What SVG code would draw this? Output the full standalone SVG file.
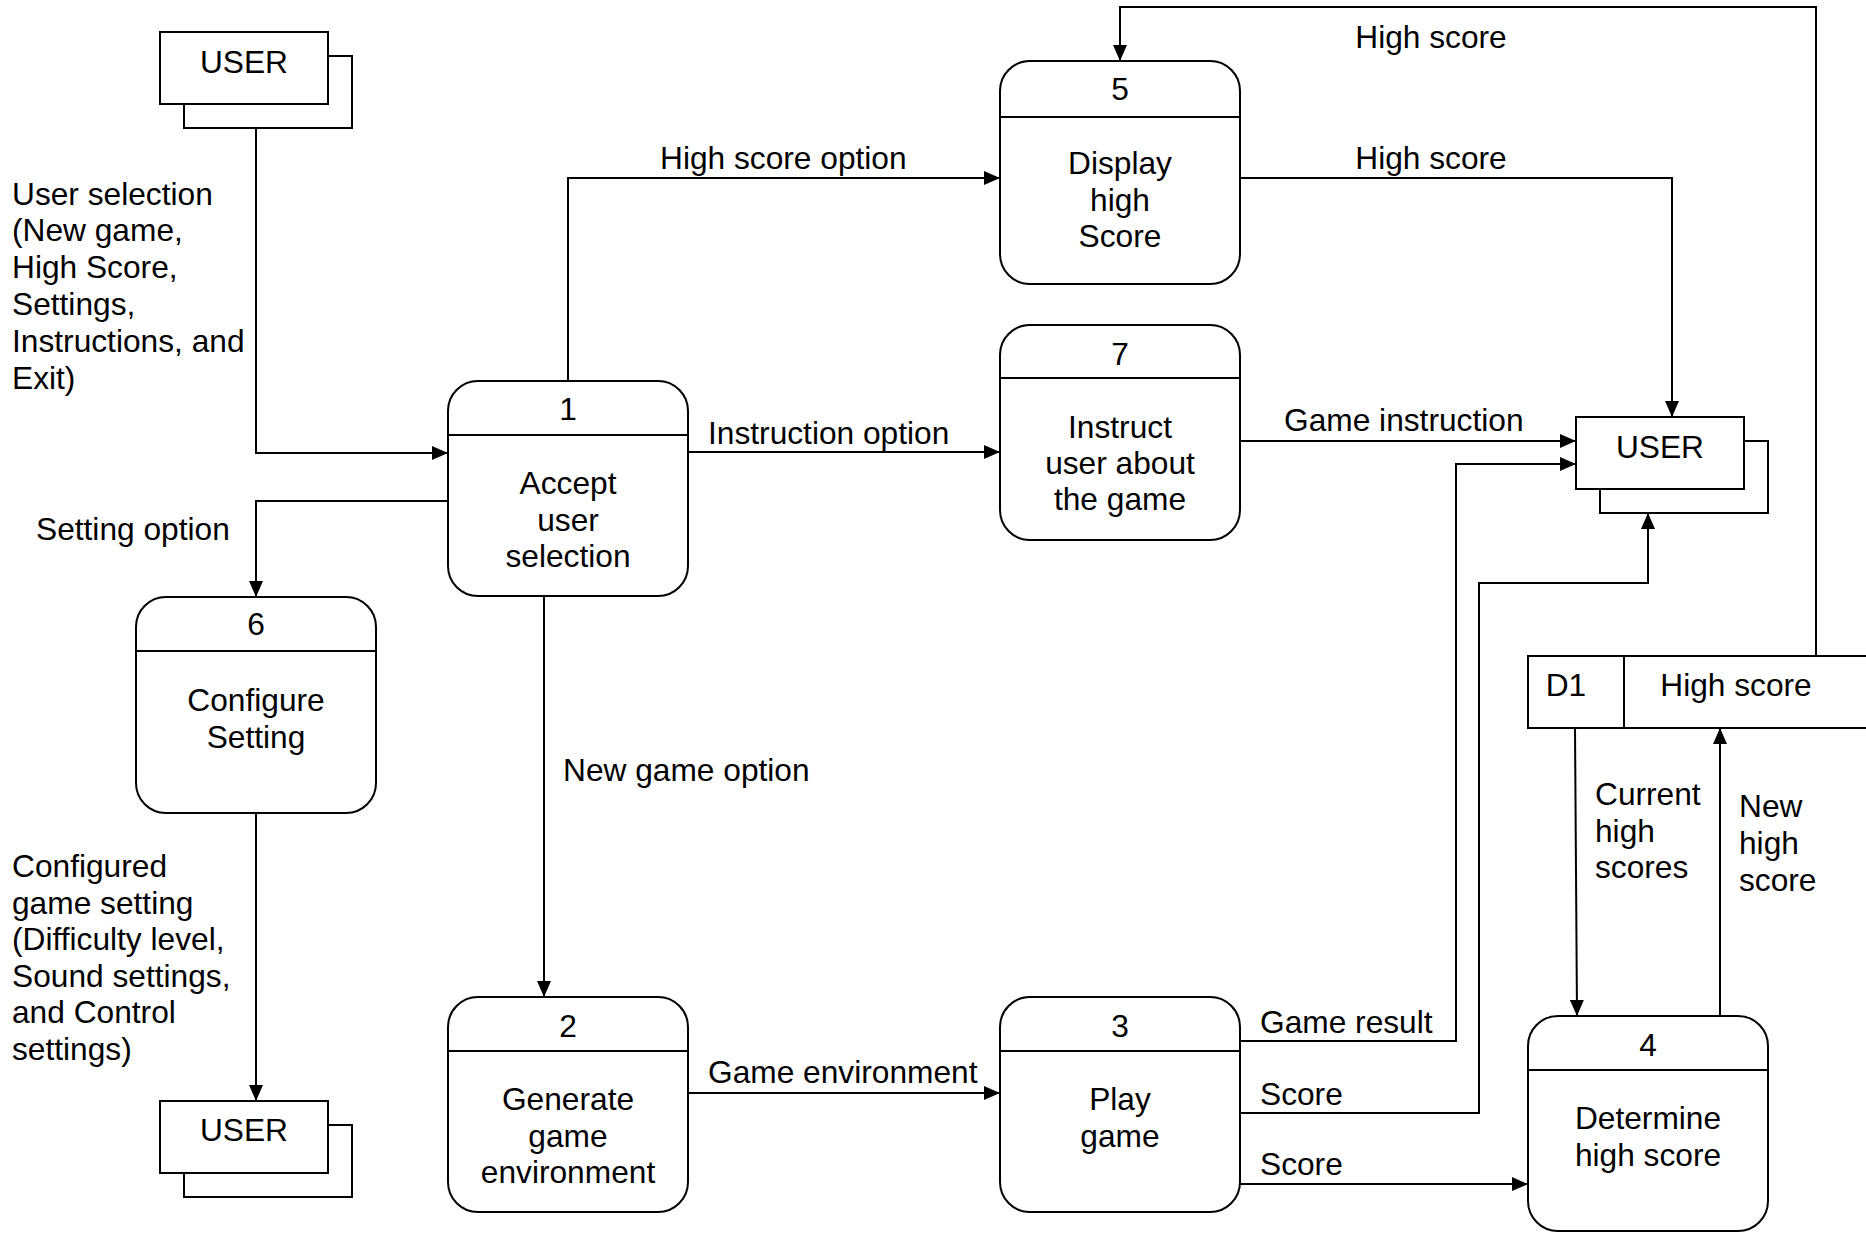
<svg xmlns="http://www.w3.org/2000/svg" width="1866" height="1233" viewBox="0 0 1866 1233">
  <style>
    text { font-family: "Liberation Sans", Arial, sans-serif; font-size: 31.7px; fill: #000; }
    .c { text-anchor: middle; }
    .proc { fill: #fff; stroke: #000; stroke-width: 2; }
    .div { stroke: #000; stroke-width: 2; }
    .ent { fill: #fff; stroke: #000; stroke-width: 2; }
    .flow { fill: none; stroke: #000; stroke-width: 2; }
  </style>
  <defs>
    <marker id="arrow" markerUnits="userSpaceOnUse" markerWidth="16" markerHeight="14" refX="16" refY="7" orient="auto">
      <path d="M0,0 L16,7 L0,14 z" fill="#000"/>
    </marker>
  </defs>
  <rect width="1866" height="1233" fill="#fff"/>

  <!-- data flows -->
  <g id="connectors">
    <path class="flow" d="M256,128 V453 H448" marker-end="url(#arrow)"/>
    <path class="flow" d="M448,501 H256 V597" marker-end="url(#arrow)"/>
    <path class="flow" d="M568,381 V178 H1000" marker-end="url(#arrow)"/>
    <path class="flow" d="M688,452 H1000" marker-end="url(#arrow)"/>
    <path class="flow" d="M544,596 V997" marker-end="url(#arrow)"/>
    <path class="flow" d="M256,813 V1101" marker-end="url(#arrow)"/>
    <path class="flow" d="M688,1093 H1000" marker-end="url(#arrow)"/>
    <path class="flow" d="M1240,178 H1672 V417" marker-end="url(#arrow)"/>
    <path class="flow" d="M1240,441 H1576" marker-end="url(#arrow)"/>
    <path class="flow" d="M1240,1041 H1456 V464 H1576" marker-end="url(#arrow)"/>
    <path class="flow" d="M1240,1113 H1479 V583 H1648 V513" marker-end="url(#arrow)"/>
    <path class="flow" d="M1240,1184 H1528" marker-end="url(#arrow)"/>
    <path class="flow" d="M1575,728 L1577,1016" marker-end="url(#arrow)"/>
    <path class="flow" d="M1720,1016 V728" marker-end="url(#arrow)"/>
    <path class="flow" d="M1816,656 V7 H1120 V61" marker-end="url(#arrow)"/>

    <text x="1431" y="48" class="c">High score</text>
    <text x="1431" y="169" class="c">High score</text>
    <text x="660" y="169">High score option</text>
    <text x="708" y="444">Instruction option</text>
    <text x="1284" y="431">Game instruction</text>
    <text x="36" y="540">Setting option</text>
    <text x="12" y="204.5">User selection</text>
    <text x="12" y="241.4">(New game,</text>
    <text x="12" y="278.3">High Score,</text>
    <text x="12" y="315.2">Settings,</text>
    <text x="12" y="352.1">Instructions, and</text>
    <text x="12" y="389">Exit)</text>
    <text x="563" y="781">New game option</text>
    <text x="12" y="877">Configured</text>
    <text x="12" y="913.6">game setting</text>
    <text x="12" y="950.2">(Difficulty level,</text>
    <text x="12" y="986.8">Sound settings,</text>
    <text x="12" y="1023.4">and Control</text>
    <text x="12" y="1060">settings)</text>
    <text x="708" y="1083">Game environment</text>
    <text x="1260" y="1033">Game result</text>
    <text x="1260" y="1105">Score</text>
    <text x="1260" y="1175">Score</text>
    <text x="1595" y="805">Current</text>
    <text x="1595" y="841.5">high</text>
    <text x="1595" y="878">scores</text>
    <text x="1739" y="817">New</text>
    <text x="1739" y="853.5">high</text>
    <text x="1739" y="890.5">score</text>
  </g>

  <!-- external entities -->
  <g id="user-top">
    <rect class="ent" x="184" y="56" width="168" height="72"/>
    <rect class="ent" x="160" y="32" width="168" height="72"/>
    <text x="244" y="73" class="c">USER</text>
  </g>
  <g id="user-right">
    <rect class="ent" x="1600" y="441" width="168" height="72"/>
    <rect class="ent" x="1576" y="417" width="168" height="72"/>
    <text x="1660" y="458" class="c">USER</text>
  </g>
  <g id="user-bottom">
    <rect class="ent" x="184" y="1125" width="168" height="72"/>
    <rect class="ent" x="160" y="1101" width="168" height="72"/>
    <text x="244" y="1141" class="c">USER</text>
  </g>

  <!-- processes -->
  <g id="p1">
    <rect class="proc" x="448" y="381" width="240" height="215" rx="30"/>
    <line class="div" x1="448" y1="435" x2="688" y2="435"/>
    <text x="568" y="420" class="c">1</text>
    <text x="568" y="494" class="c">Accept</text>
    <text x="568" y="530.6" class="c">user</text>
    <text x="568" y="567" class="c">selection</text>
  </g>
  <g id="p6">
    <rect class="proc" x="136" y="597" width="240" height="216" rx="30"/>
    <line class="div" x1="136" y1="651" x2="376" y2="651"/>
    <text x="256" y="635" class="c">6</text>
    <text x="256" y="711" class="c">Configure</text>
    <text x="256" y="748" class="c">Setting</text>
  </g>
  <g id="p2">
    <rect class="proc" x="448" y="997" width="240" height="215" rx="30"/>
    <line class="div" x1="448" y1="1051" x2="688" y2="1051"/>
    <text x="568" y="1037" class="c">2</text>
    <text x="568" y="1110" class="c">Generate</text>
    <text x="568" y="1146.5" class="c">game</text>
    <text x="568" y="1183" class="c">environment</text>
  </g>
  <g id="p5">
    <rect class="proc" x="1000" y="61" width="240" height="223" rx="30"/>
    <line class="div" x1="1000" y1="117" x2="1240" y2="117"/>
    <text x="1120" y="100" class="c">5</text>
    <text x="1120" y="174" class="c">Display</text>
    <text x="1120" y="210.5" class="c">high</text>
    <text x="1120" y="247" class="c">Score</text>
  </g>
  <g id="p7">
    <rect class="proc" x="1000" y="325" width="240" height="215" rx="30"/>
    <line class="div" x1="1000" y1="378" x2="1240" y2="378"/>
    <text x="1120" y="364.5" class="c">7</text>
    <text x="1120" y="438" class="c">Instruct</text>
    <text x="1120" y="474" class="c">user about</text>
    <text x="1120" y="510" class="c">the game</text>
  </g>
  <g id="p3">
    <rect class="proc" x="1000" y="997" width="240" height="215" rx="30"/>
    <line class="div" x1="1000" y1="1051" x2="1240" y2="1051"/>
    <text x="1120" y="1037" class="c">3</text>
    <text x="1120" y="1110" class="c">Play</text>
    <text x="1120" y="1146.5" class="c">game</text>
  </g>
  <g id="p4">
    <rect class="proc" x="1528" y="1016" width="240" height="215" rx="30"/>
    <line class="div" x1="1528" y1="1070" x2="1768" y2="1070"/>
    <text x="1648" y="1056" class="c">4</text>
    <text x="1648" y="1129" class="c">Determine</text>
    <text x="1648" y="1166" class="c">high score</text>
  </g>

  <!-- data store -->
  <g id="d1">
    <path class="flow" d="M1868,656 H1528 V728 H1868"/>
    <line class="div" x1="1624" y1="656" x2="1624" y2="728"/>
    <text x="1566" y="695.5" class="c">D1</text>
    <text x="1736" y="695.5" class="c">High score</text>
  </g>
</svg>
